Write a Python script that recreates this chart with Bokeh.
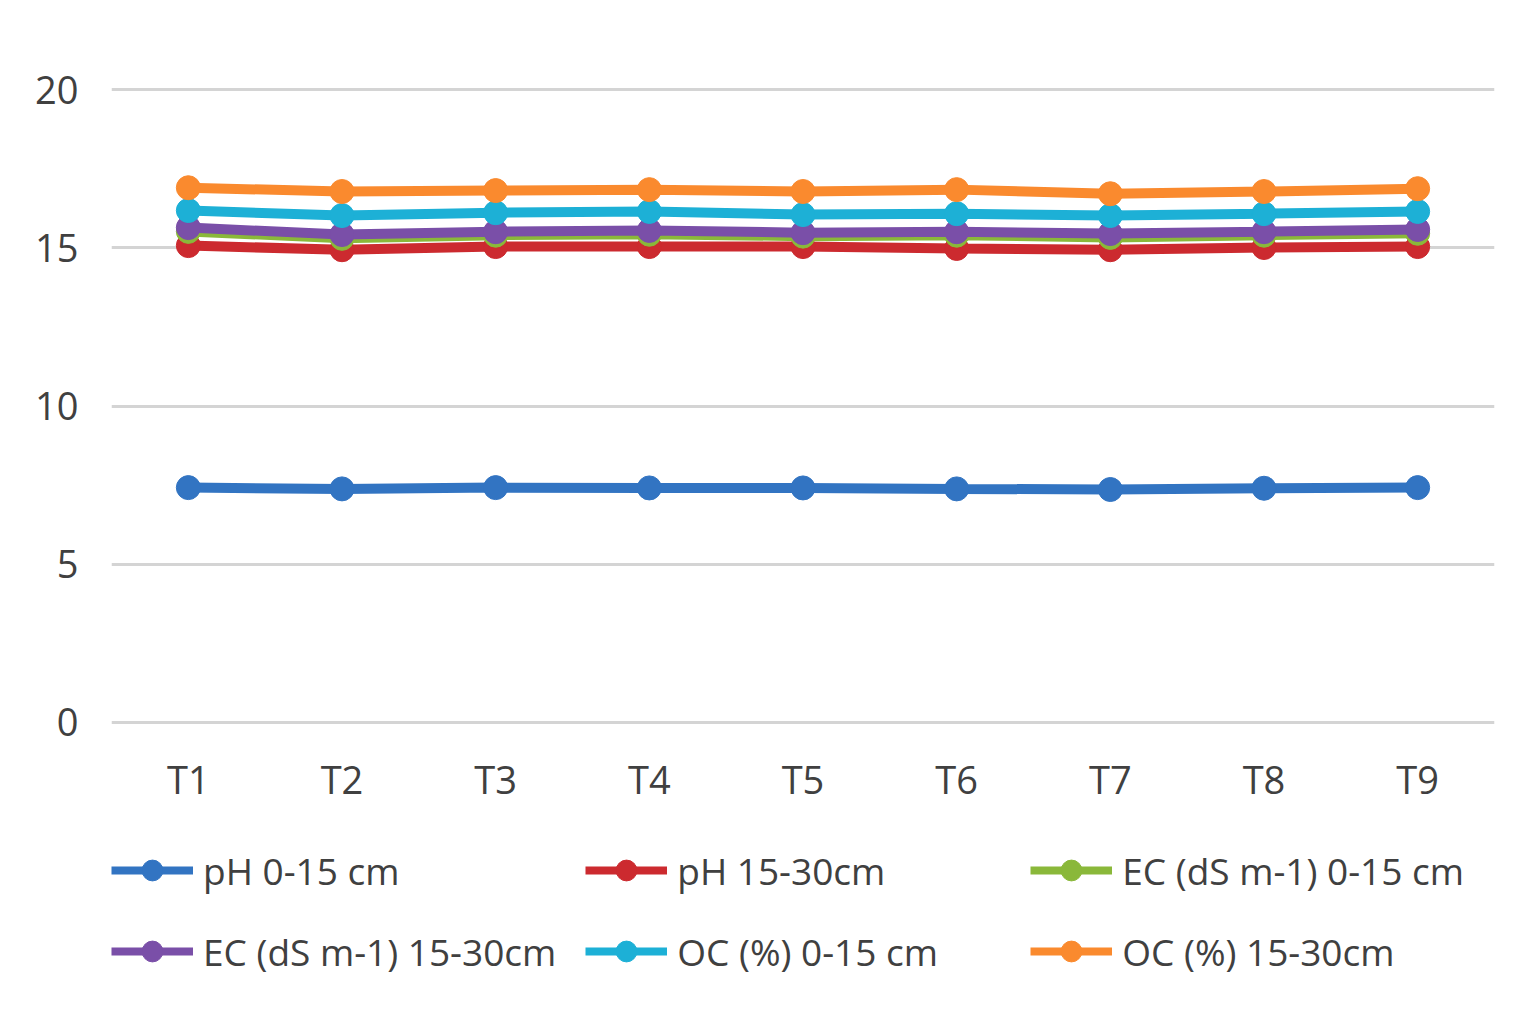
from bokeh.plotting import figure
from bokeh.layouts import column
from bokeh.models import ColumnDataSource, FactorRange, Legend, LegendItem, FixedTicker, Range1d
from bokeh.transform import stack
from bokeh.embed import file_html
from bokeh.resources import INLINE

treatments = ["T1", "T2", "T3", "T4", "T5", "T6", "T7", "T8", "T9"]
ph_0_15 = [7.42, 7.38, 7.42, 7.41, 7.41, 7.38, 7.36, 7.40, 7.42]
ph_15_30 = [7.65, 7.56, 7.62, 7.63, 7.63, 7.60, 7.58, 7.61, 7.62]
ec_0_15 = [0.45, 0.36, 0.36, 0.39, 0.33, 0.42, 0.39, 0.39, 0.42]
ec_15_30 = [0.12, 0.12, 0.11, 0.12, 0.11, 0.11, 0.12, 0.11, 0.12]
oc_0_15 = [0.54, 0.60, 0.60, 0.60, 0.57, 0.57, 0.57, 0.57, 0.57]
oc_15_30 = [0.72, 0.76, 0.70, 0.69, 0.73, 0.76, 0.69, 0.70, 0.72]

series_keys = ["ph_0_15", "ph_15_30", "ec_0_15", "ec_15_30", "oc_0_15", "oc_15_30"]
series_labels = ["pH 0-15 cm", "pH 15-30cm", "EC (dS m-1) 0-15 cm",
                 "EC (dS m-1) 15-30cm", "OC (%) 0-15 cm", "OC (%) 15-30cm"]
colors = ["#3274c2", "#cc2a2f", "#8ab83a", "#7a4fa8", "#1db0d6", "#fa8a2e"]
y_ticks = [0, 5, 10, 15, 20]

source = ColumnDataSource(dict(
    x=treatments, ph_0_15=ph_0_15, ph_15_30=ph_15_30, ec_0_15=ec_0_15,
    ec_15_30=ec_15_30, oc_0_15=oc_0_15, oc_15_30=oc_15_30))

FONT = "Open Sans"
TXT = "#404040"

# main chart
p = figure(x_range=FactorRange(*treatments), y_range=(-0.1, 20.1),
           width=1528, height=820, output_backend="svg", toolbar_location=None,
           min_border_left=111, min_border_right=34, min_border_top=86,
           min_border_bottom=95)
p.outline_line_color = None
p.background_fill_color = "white"
p.border_fill_color = "white"

p.xgrid.grid_line_color = None
p.ygrid.grid_line_color = "#d4d4d4"
p.ygrid.grid_line_width = 3
p.yaxis.ticker = FixedTicker(ticks=y_ticks)

for ax in (p.xaxis[0], p.yaxis[0]):
    ax.axis_line_color = None
    ax.major_tick_line_color = None
    ax.minor_tick_line_color = None
    ax.major_label_text_font = FONT
    ax.major_label_text_font_size = "38px"
    ax.major_label_text_color = TXT
p.yaxis.major_label_standoff = 27
p.xaxis.major_label_standoff = 21

# legend strip below the chart
q = figure(x_range=FactorRange(*treatments), y_range=Range1d(100, 120),
           width=1528, height=190, output_backend="svg", toolbar_location=None,
           min_border=0)
q.axis.visible = False
q.grid.grid_line_color = None
q.outline_line_color = None
q.background_fill_color = "white"
q.border_fill_color = "white"

items = []
for i, (key, label, color) in enumerate(zip(series_keys, series_labels, colors)):
    ys = stack(*series_keys[: i + 1])
    p.line(x="x", y=ys, source=source, line_color=color, line_width=10)
    p.scatter(x="x", y=ys, source=source, size=24, fill_color=color,
              line_color=color, line_width=1)
    ln = q.line(x="x", y=ys, source=source, line_color=color, line_width=8, visible=False)
    sc = q.scatter(x="x", y=ys, source=source, size=22, fill_color=color,
                   line_color=color, line_width=1, visible=False)
    items.append(LegendItem(label=label, renderers=[ln, sc]))

legend = Legend(items=items, orientation="horizontal", ncols=3,
                location=(0, 33),
                label_text_font=FONT, label_text_font_size="37px",
                label_text_color=TXT, glyph_width=82, glyph_height=52,
                label_height=50, label_width=324, label_standoff=10,
                spacing=29, padding=0, margin=0,
                border_line_color=None, background_fill_alpha=0)
q.add_layout(legend, "center")

layout = column(p, q, spacing=0)
open("out.html", "w").write(file_html(layout, INLINE))
